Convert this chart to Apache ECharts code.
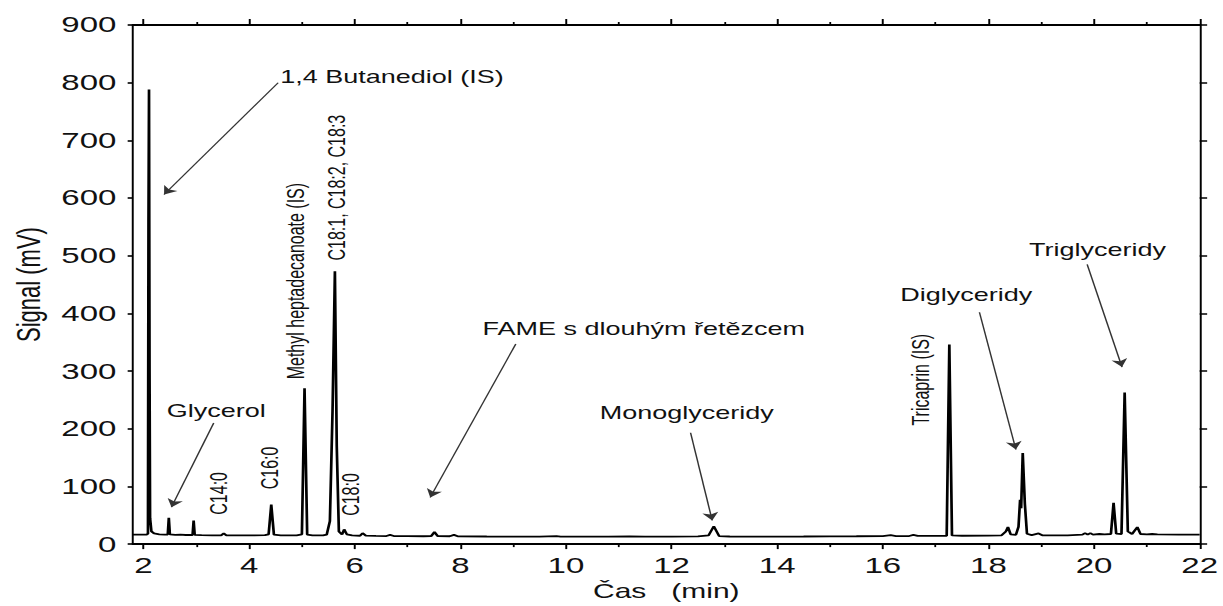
<!DOCTYPE html>
<html>
<head>
<meta charset="utf-8">
<script src="https://cdn.jsdelivr.net/npm/echarts@6/dist/echarts.min.js"></script>
<style>
html,body{margin:0;padding:0;background:#fff;overflow:hidden;}
#wrap{width:1223px;height:606px;overflow:hidden;position:relative;}
#chart{width:815.33px;height:606px;transform:scaleX(1.5);transform-origin:0 0;position:absolute;left:0;top:0;}
</style>
</head>
<body>
<div id="wrap"><div id="chart"></div></div>
<script>
// Retention time (min)
const time = [
  1.80, 1.95, 2.06, 2.085, 2.095, 2.105, 2.115, 2.125, 2.15, 2.20, 2.30, 2.40,
  2.46, 2.48, 2.50, 2.60, 2.70, 2.80, 2.93, 2.95, 2.97, 3.10, 3.30, 3.47, 3.52, 3.57,
  3.80, 4.10, 4.30, 4.37, 4.42, 4.47, 4.60, 4.90, 5.00, 5.05, 5.10, 5.20, 5.40,
  5.47, 5.53, 5.58, 5.625, 5.66, 5.70, 5.76, 5.80, 5.85, 5.95, 6.10, 6.15, 6.21,
  6.40, 6.60, 6.67, 6.74, 7.00, 7.30, 7.45, 7.51, 7.57, 7.80, 7.88, 7.95, 8.50,
  9.00, 9.50, 9.82, 9.90, 10.30, 10.80, 11.20, 11.50, 12.00, 12.50, 12.70, 12.80,
  12.90, 13.10, 13.50, 14.00, 14.50, 15.00, 15.50, 16.00, 16.15, 16.25, 16.50,
  16.58, 16.66, 17.00, 17.21, 17.26, 17.31, 17.50, 18.00, 18.25, 18.33, 18.37,
  18.42, 18.52, 18.57, 18.60, 18.62, 18.65, 18.69, 18.73, 18.82, 18.95, 19.02,
  19.50, 19.78, 19.83, 19.88, 19.93, 19.98, 20.10, 20.20, 20.32, 20.37, 20.42,
  20.52, 20.58, 20.64, 20.72, 20.82, 20.88, 21.00, 21.10, 21.20, 21.60, 22.00
];
// Detector signal (mV)
const signal = [
  16.5, 16.4, 16.3, 18, 560, 788, 300, 45, 22, 18.5, 17, 16.5,
  16.5, 45.5, 16.8, 16, 16.3, 15.8, 15.8, 41, 16, 15.5, 15.2, 15.3, 18.5, 15.3,
  15, 15, 15.5, 17, 68.5, 16.5, 15.2, 15.3, 17, 270, 16.5, 15, 15,
  16.5, 40, 230, 473, 170, 22, 16.5, 25.5, 17, 15, 14.5, 19, 14.8,
  14.2, 14, 16, 14, 13.7, 13.6, 14, 21, 14, 13.6, 16, 13.5, 13.2,
  13, 12.8, 13.8, 12.8, 12.8, 13, 13.3, 13, 13, 13.3, 15, 31,
  14, 13.2, 13, 13, 13.2, 13.5, 13.6, 13.8, 15.5, 14, 14,
  16, 14.2, 14.2, 14.5, 346, 15, 14.5, 14.6, 15.2, 22, 29.5,
  17, 16, 30, 77, 62, 158, 70, 18, 15.5, 18.5, 15.3,
  15.3, 16.5, 19, 16.5, 19, 16.5, 17.5, 16.7, 17.5, 71.5, 18,
  17.5, 263, 22, 17.5, 29.5, 17.5, 16.8, 17.5, 16.7, 16.5, 16.5
];
const xMajorTicks = [2, 4, 6, 8, 10, 12, 14, 16, 18, 20, 22];
const xMinorTicks = [3, 5, 7, 9, 11, 13, 15, 17, 19, 21];
const xTitle = 'Čas   (min)';
const yTitle = 'Signal (mV)';
const peakNames = ['1,4 Butanediol (IS)', 'Glycerol', 'C14:0', 'C16:0',
  'Methyl heptadecanoate (IS)', 'C18:1, C18:2, C18:3', 'C18:0',
  'FAME s dlouhým řetězcem', 'Monoglyceridy', 'Tricaprin (IS)', 'Diglyceridy', 'Triglyceridy'];

const FONT = '"Liberation Sans", Arial, sans-serif';
const chart = echarts.init(document.getElementById('chart'), null, {renderer: 'svg'});

function hLabel(text, x, y, size) {
  return {coord: [x, y], value: 0, label: {formatter: text, position: 'inside', align: 'left', verticalAlign: 'middle', fontSize: size || 18}};
}
function vLabel(text, x, y) {
  return {coord: [x, y], value: 0, label: {formatter: text, position: 'inside', align: 'center', verticalAlign: 'middle', rotate: 90, fontSize: 16}};
}
function arrow(x1, y1, x2, y2) {
  return [{coord: [x1, y1]}, {coord: [x2, y2]}];
}

const axisBase = {type: 'value', min: 1.8, max: 22, splitLine: {show: false}};
const yBase = {type: 'value', min: 0, max: 900, interval: 100, splitLine: {show: false}};

chart.setOption({
  animation: false,
  backgroundColor: '#fff',
  grid: {left: 83.33, right: 14, top: 25, bottom: 57, containLabel: false},
  xAxis: [
    Object.assign({}, axisBase, {
      position: 'bottom',
      name: xTitle, nameLocation: 'middle', nameGap: 33,
      nameTextStyle: {fontFamily: FONT, fontSize: 20, color: '#111'},
      axisLine: {lineStyle: {color: '#000', width: 1.8}},
      axisTick: {customValues: xMajorTicks, length: 5, lineStyle: {color: '#000', width: 1.3}},
      axisLabel: {customValues: xMajorTicks, fontFamily: FONT, fontSize: 22, color: '#111', margin: 10}
    }),
    Object.assign({}, axisBase, {
      position: 'bottom',
      axisLine: {show: false},
      axisTick: {customValues: xMinorTicks, length: 3, lineStyle: {color: '#000', width: 1.2}},
      axisLabel: {show: false}
    }),
    Object.assign({}, axisBase, {
      position: 'top',
      axisLine: {lineStyle: {color: '#000', width: 1.8}},
      axisTick: {customValues: xMajorTicks, length: 6, lineStyle: {color: '#000', width: 1.3}},
      axisLabel: {show: false}
    }),
    Object.assign({}, axisBase, {
      position: 'top',
      axisLine: {show: false},
      axisTick: {customValues: xMinorTicks, length: 3, lineStyle: {color: '#000', width: 1.2}},
      axisLabel: {show: false}
    })
  ],
  yAxis: [
    Object.assign({}, yBase, {
      position: 'left',
      name: yTitle, nameLocation: 'middle', nameGap: 52, nameRotate: 90,
      nameTextStyle: {fontFamily: FONT, fontSize: 22, color: '#111'},
      axisLine: {show: true, lineStyle: {color: '#000', width: 1.3}},
      axisTick: {show: true, length: 3.5, lineStyle: {color: '#000', width: 1.6}},
      axisLabel: {fontFamily: FONT, fontSize: 22, color: '#111', margin: 11}
    }),
    Object.assign({}, yBase, {
      position: 'right',
      axisLine: {show: true, lineStyle: {color: '#000', width: 1.3}},
      axisTick: {show: true, length: 5, lineStyle: {color: '#000', width: 1.6}},
      axisLabel: {show: false}
    })
  ],
  series: [{
    type: 'line',
    xAxisIndex: 0, yAxisIndex: 0,
    data: time.map((t, i) => [t, signal[i]]),
    showSymbol: false, symbol: 'none',
    lineStyle: {color: '#000', width: 1.8, join: 'bevel'},
    emphasis: {disabled: true},
    silent: true,
    markPoint: {
      silent: true, symbol: 'circle', symbolSize: 0,
      itemStyle: {color: 'rgba(0,0,0,0)'},
      label: {show: true, color: '#111', fontFamily: FONT},
      data: [
        hLabel(peakNames[0], 4.59, 810),
        hLabel(peakNames[1], 2.44, 232),
        vLabel(peakNames[2], 3.43, 88),
        vLabel(peakNames[3], 4.39, 132),
        vLabel(peakNames[4], 4.875, 456),
        vLabel(peakNames[5], 5.66, 618),
        vLabel(peakNames[6], 5.93, 86),
        hLabel(peakNames[7], 8.42, 374),
        hLabel(peakNames[8], 10.64, 227),
        vLabel(peakNames[9], 16.71, 285),
        hLabel(peakNames[10], 16.33, 433),
        hLabel(peakNames[11], 18.77, 511)
      ]
    },
    markLine: {
      silent: true,
      symbol: ['none', 'arrow'], symbolSize: 8,
      lineStyle: {color: '#333', width: 1, type: 'solid'},
      label: {show: false},
      data: [
        arrow(4.55, 800, 2.39, 606),
        arrow(3.33, 210, 2.53, 64),
        arrow(9.05, 347, 7.43, 81),
        arrow(12.36, 193, 12.77, 41),
        arrow(17.83, 402, 18.52, 164),
        arrow(19.87, 485, 20.53, 307)
      ]
    }
  }]
});
</script>
</body>
</html>
